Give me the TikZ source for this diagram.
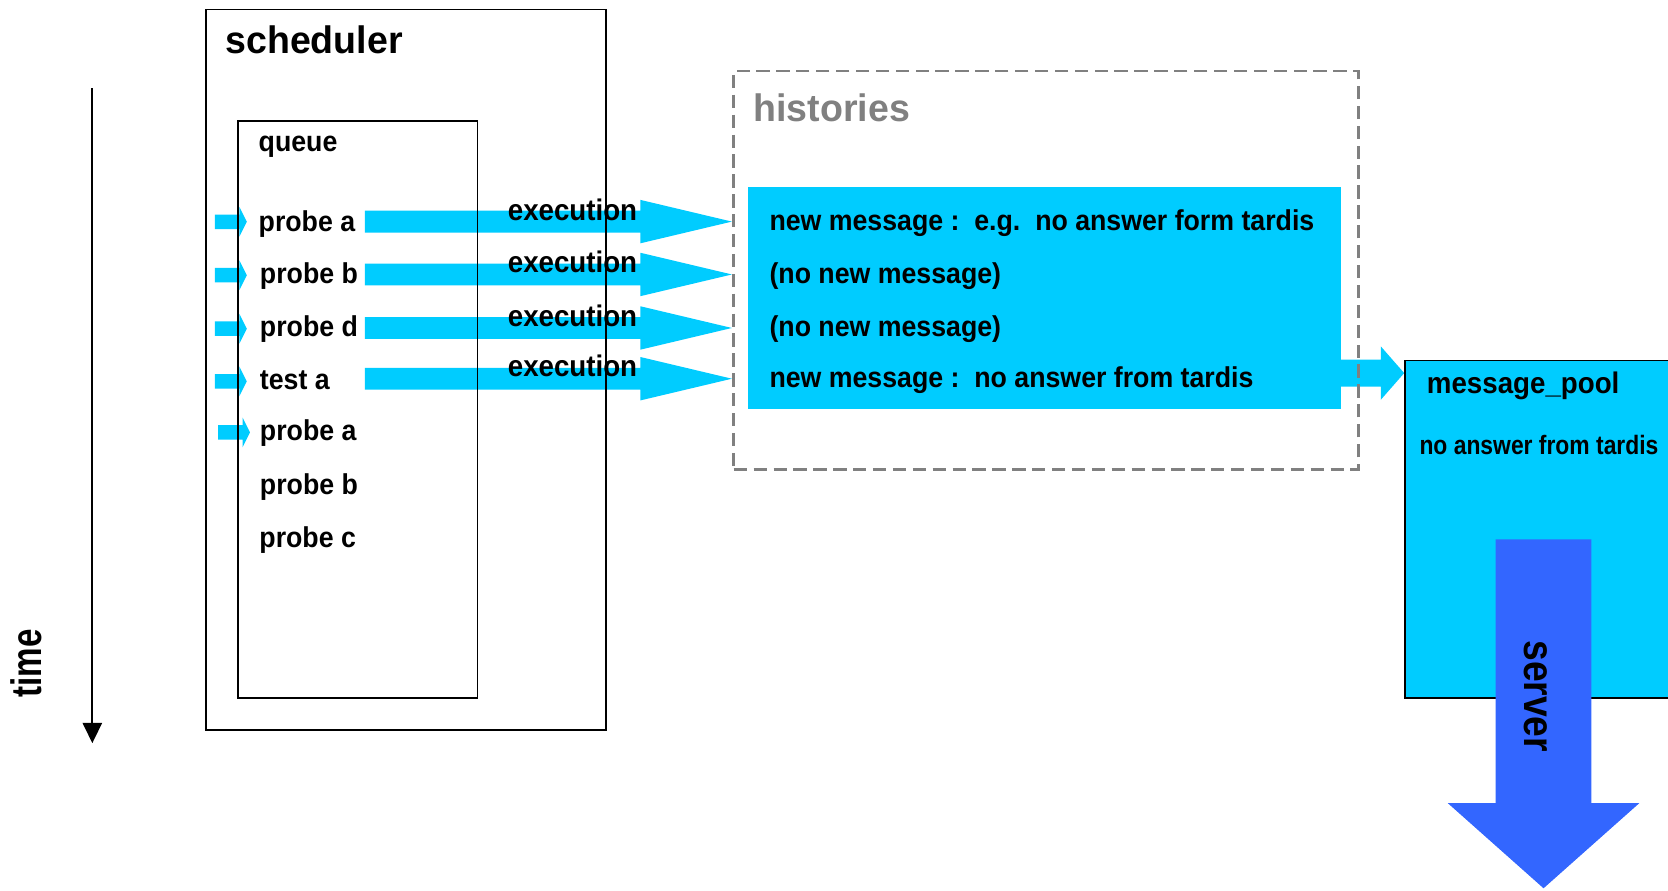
\documentclass[tikz,border=0pt]{standalone}
\usepackage{fontspec}
\setmainfont{Liberation Sans}
\newfontfamily\fA{Liberation Sans}[FakeStretch=0.93]
\newfontfamily\fB{Liberation Sans}[FakeStretch=0.98]
\newfontfamily\fC{Liberation Sans}[FakeStretch=0.78]
\newfontfamily\fD{Liberation Sans}[FakeStretch=0.875]
\newfontfamily\fE{Liberation Sans}[FakeStretch=0.86]
\usetikzlibrary{arrows.meta}
\definecolor{cyanc}{HTML}{00CCFF}
\definecolor{bluec}{HTML}{3366FF}
\definecolor{grayc}{HTML}{808080}
% block arrow: [colour] start x, head base x, tip x, centre y, half shaft, half head
\newcommand\bkarrow[7][cyanc]{\fill[#1] (#2,#5-#6) -- (#3,#5-#6) -- (#3,#5-#7) -- (#4,#5) -- (#3,#5+#7) -- (#3,#5+#6) -- (#2,#5+#6) -- cycle;}
\begin{document}
\begin{tikzpicture}[x=0.5pt,y=-0.5pt,
  frame/.style={draw=black, line width=0.9pt, inner sep=0, anchor=north west},
  item/.style={inner sep=0, anchor=base west, font=\fA\bfseries\fontsize{13.5}{16}\selectfont},
  exec/.style={inner sep=0, anchor=base west, font=\fA\bfseries\fontsize{14}{16}\selectfont},
  title/.style={inner sep=0, anchor=base west, font=\fB\bfseries\fontsize{18}{20}\selectfont},
  poolt/.style={inner sep=0, anchor=base west, font=\fA\bfseries\fontsize{14}{16}\selectfont},
  poolm/.style={inner sep=0, anchor=base west, font=\fE\bfseries\fontsize{12.5}{14}\selectfont}]
\fill[white] (0,0) rectangle (1568,837);
\clip (0,0) rectangle (1568,837);

% cyan message box inside histories
\node[fill=cyanc, inner sep=0, anchor=north west, minimum width=278.5pt, minimum height=104.75pt] (msgs) at (703,175) {};

% small arrows into queue
\bkarrow{202}{225}{232}{208.5}{6.8}{14}
\bkarrow{202}{225}{232}{258.7}{6.8}{14}
\bkarrow{202}{225}{232}{309}{6.8}{14}
\bkarrow{202}{225}{232}{358.5}{6.8}{14}
\bkarrow{205}{228}{235}{406.5}{6.8}{14}

% execution arrows
\bkarrow{343}{602}{688}{208.3}{10.3}{20.4}
\bkarrow{343}{602}{688}{258}{10.3}{20.4}
\bkarrow{343}{602}{688}{308.3}{10.3}{20.4}
\bkarrow{343}{602}{688}{356}{10.3}{20.4}

% arrow to message_pool
\bkarrow{1260}{1298}{1320}{350.7}{12.7}{25.1}

% message_pool box
\node[frame, fill=cyanc, minimum width=150pt, minimum height=158.5pt] (pool) at (1320,338) {};
\node[poolt] (poolT) at (1341,369.7) {message\_pool};
\node[poolm] (poolM) at (1334,427.6) {no answer from tardis};

% server arrow
\fill[bluec] (1406,507) -- (1496,507) -- (1496,755) -- (1541,755) -- (1451,835) -- (1361,755) -- (1406,755) -- cycle;
\node[inner sep=0, anchor=base west, rotate=-90, font=\fD\bfseries\fontsize{20}{22}\selectfont] (server) at (1433,601.5) {server};

% scheduler and queue frames
\node[frame, minimum width=188pt, minimum height=338.5pt] (sched) at (192.5,8) {};
\node[frame, minimum width=112.75pt, minimum height=271pt] (queue) at (222.5,113) {};
\node[title] (schedT) at (211.5,50.1) {scheduler};
\node[item] (queueT) at (242.8,142.6) {queue};

% queue items
\node[item] (q1) at (242.8,217.7) {probe a};
\node[item] (q2) at (244,266.8) {probe b};
\node[item] (q3) at (244,316.4) {probe d};
\node[item] (q4) at (244,366) {test a};
\node[item] (q5) at (244,414.5) {probe a};
\node[item] (q6) at (244,465.3) {probe b};
\node[item] (q7) at (243.5,514.5) {probe c};

% execution labels
\node[exec] (e1) at (477,207.5) {execution};
\node[exec] (e2) at (477,256.4) {execution};
\node[exec] (e3) at (477,306.6) {execution};
\node[exec] (e4) at (477,354.2) {execution};

% histories
\node[draw=grayc, line width=1.25pt, dash pattern=on 6.25pt off 3.1pt, inner sep=0, anchor=north west, minimum width=293.5pt, minimum height=187.25pt] (hist) at (688.5,65.5) {};
\node[title, text=grayc] (histT) at (708,114.4) {histories};
\node[item] (m1) at (723,216.6) {new message :\ \ e.g.\ \ no answer form tardis};
\node[item] (m2) at (723,266.6) {(no new message)};
\node[item] (m3) at (723,316.6) {(no new message)};
\node[item] (m4) at (723,364.5) {new message :\ \ no answer from tardis};

% time axis
\coordinate (t0) at (86.8,83);
\coordinate (t1) at (86.8,698.6);
\draw[line width=0.95pt, -{Triangle[length=9.5pt,width=9pt]}] (t0) -- (t1);
\node[inner sep=0, anchor=base west, rotate=90, font=\fC\bfseries\fontsize{20}{22}\selectfont] (time) at (39.2,656.3) {time};
\end{tikzpicture}
\end{document}
